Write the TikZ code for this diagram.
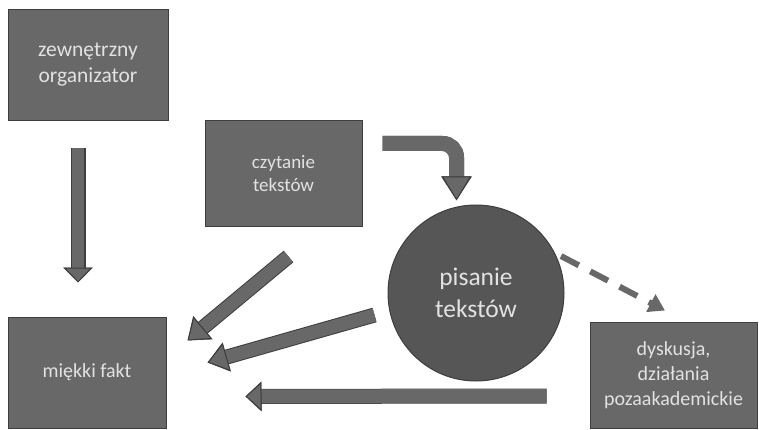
\documentclass[tikz,border=0pt]{standalone}
\usepackage{fontspec}
\setmainfont{Carlito}
\usetikzlibrary{arrows.meta}
\definecolor{boxfill}{RGB}{104,104,104}
\definecolor{boxline}{RGB}{62,62,62}
\definecolor{circfill}{RGB}{86,86,86}
\definecolor{txt}{RGB}{226,226,226}
\begin{document}
\begin{tikzpicture}[x=1pt,y=-1pt,
	box/.style={draw=boxline, fill=boxfill, line width=1pt, text=txt, align=center, inner sep=0pt},
	fatarrow/.style={draw=boxfill, line width=13pt, -{Triangle[length=#1pt, width=29pt, line width=1pt, color=boxline, fill=boxfill]},
		preaction={draw=boxline, line width=15pt, -{Triangle[length=#1pt, width=29pt]}}},
	fatarrow/.default=16]
		\useasboundingbox (0,0) rectangle (759,430);
		\node [box, minimum width=160pt, minimum height=111pt, font=\fontsize{21.5}{26}\selectfont] (org) at (88,65) {zewnętrzny\\organizator};
		\node [box, minimum width=157pt, minimum height=105pt, font=\fontsize{19}{23}\selectfont] (czyt) at (283.5,173.5) {czytanie\\tekstów};
		\node [box, circle, fill=circfill, minimum size=176pt, font=\fontsize{25.5}{32}\selectfont] (pis) at (476,293) {pisanie\\tekstów};
		\node [box, minimum width=158pt, minimum height=111pt, font=\fontsize{20}{24}\selectfont] (miek) at (87,372.5) {\raisebox{4pt}{miękki fakt}};
		\node [box, minimum width=167pt, minimum height=106pt, font=\fontsize{20}{25}\selectfont] (dysk) at (673.5,375) {dyskusja,\\działania\\pozaakademickie};
		\draw [fatarrow=15, line width=12pt, shorten <=27pt, shorten >=34pt] ([xshift=-10pt]org.south) -- ([xshift=-9pt]miek.north);
		\draw [fatarrow=24, line width=15pt, rounded corners=14pt, shorten <=20pt, shorten >=4pt] ([yshift=30pt]czyt.east) -| ([xshift=-19.5pt]pis.north);
		\draw [fatarrow=20] ([xshift=5pt,yshift=-30pt]czyt.south) -- ([xshift=21pt,yshift=32pt]miek.east);
		\draw [fatarrow=20] ([xshift=-13pt,yshift=-22pt]pis.west) -- ([xshift=41pt,yshift=10pt]miek.east);
		\draw [draw=boxfill, line width=6pt, dash pattern=on 20pt off 13pt, shorten <=7pt, -{Triangle[length=16pt, width=19pt]}] (pis.27) -- ([xshift=-8.5pt,yshift=11pt]dysk.north);
		\draw [fatarrow=16, line width=14pt, shorten <=43pt, shorten >=79pt] ([yshift=-21pt]dysk.west) -- ([yshift=-24pt]miek.east);
\end{tikzpicture}
\end{document}
